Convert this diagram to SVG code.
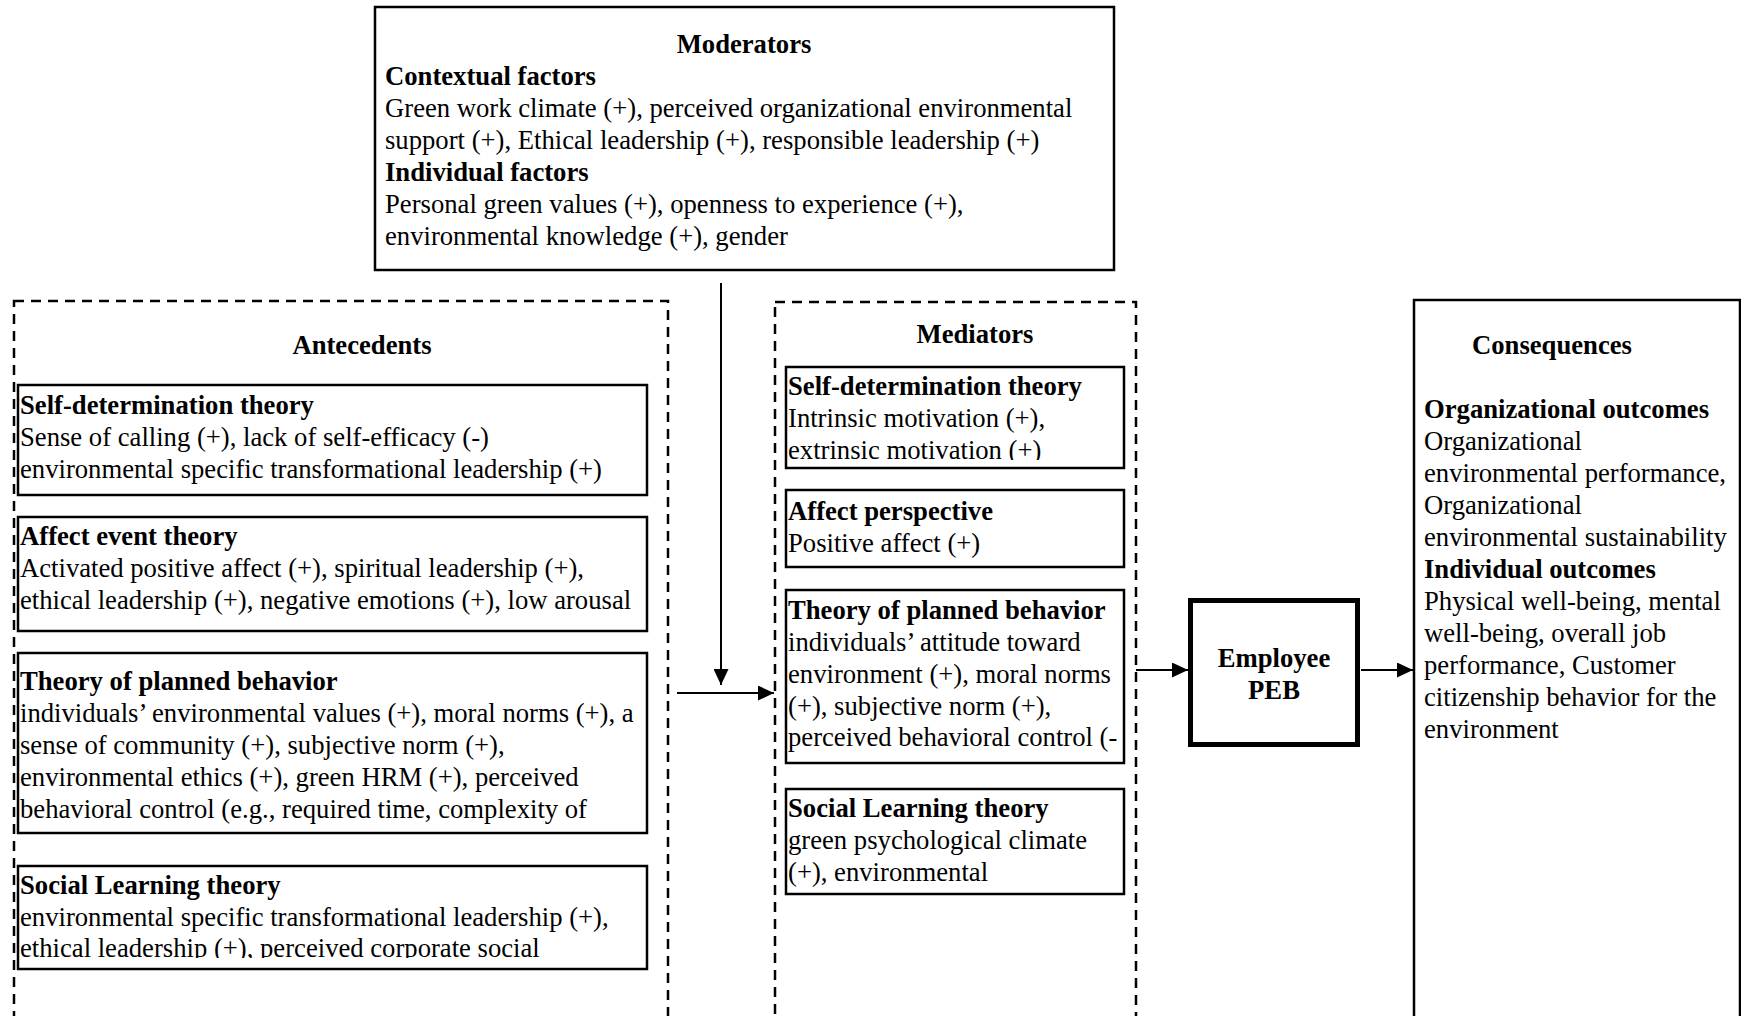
<svg xmlns="http://www.w3.org/2000/svg" width="1741" height="1016" viewBox="0 0 1741 1016">
<style>
text{font-family:"Liberation Serif","Times New Roman",serif;font-size:26.67px;fill:#000}
.b{font-weight:bold}
.c{text-anchor:middle}
.box{fill:none;stroke:#000;stroke-width:2.5}
.dash{fill:none;stroke:#000;stroke-width:2.5;stroke-dasharray:10 7}
.peb{fill:none;stroke:#000;stroke-width:5}
.conn{stroke:#000;stroke-width:2;fill:none}
</style>
<defs>
<marker id="arr" markerUnits="userSpaceOnUse" markerWidth="16" markerHeight="15" refX="16" refY="7.5" orient="auto">
<path d="M0,0 L16,7.5 L0,15 z" fill="#000"/>
</marker>
<clipPath id="clipA4"><rect x="0" y="860" width="680" height="98"/></clipPath>
<clipPath id="clipM1"><rect x="780" y="360" width="350" height="100"/></clipPath>
</defs>
<rect width="1741" height="1016" fill="#fff"/>

<g id="moderators">
<rect class="box" x="375" y="7" width="739" height="263"/>
<text class="b c" x="744" y="53">Moderators</text>
<text class="b" x="385" y="85">Contextual factors</text>
<text x="385" y="117">Green work climate (+), perceived organizational environmental</text>
<text x="385" y="149">support (+), Ethical leadership (+), responsible leadership (+)</text>
<text class="b" x="385" y="181">Individual factors</text>
<text x="385" y="213">Personal green values (+), openness to experience (+),</text>
<text x="385" y="245">environmental knowledge (+), gender</text>
</g>

<g id="antecedents">
<rect class="dash" x="14" y="301" width="654" height="760"/>
<text class="b c" x="362" y="354">Antecedents</text>
</g>
<g id="ant-sdt">
<rect class="box" x="18" y="385" width="629" height="110"/>
<text class="b" x="20" y="414">Self-determination theory</text>
<text x="20" y="446">Sense of calling (+), lack of self-efficacy (-)</text>
<text x="20" y="478">environmental specific transformational leadership (+)</text>
</g>
<g id="ant-aet">
<rect class="box" x="18" y="517" width="629" height="114"/>
<text class="b" x="20" y="545">Affect event theory</text>
<text x="20" y="577">Activated positive affect (+), spiritual leadership (+),</text>
<text x="20" y="609">ethical leadership (+), negative emotions (+), low arousal</text>
</g>
<g id="ant-tpb">
<rect class="box" x="18" y="653" width="629" height="180"/>
<text class="b" x="20" y="690">Theory of planned behavior</text>
<text x="20" y="722">individuals’ environmental values (+), moral norms (+), a</text>
<text x="20" y="754">sense of community (+), subjective norm (+),</text>
<text x="20" y="786">environmental ethics (+), green HRM (+), perceived</text>
<text x="20" y="818">behavioral control (e.g., required time, complexity of</text>
</g>
<g id="ant-slt">
<rect class="box" x="18" y="866" width="629" height="103"/>
<text class="b" x="20" y="894">Social Learning theory</text>
<text x="20" y="926">environmental specific transformational leadership (+),</text>
<text x="20" y="957" clip-path="url(#clipA4)">ethical leadership (+), perceived corporate social</text>
</g>

<g id="mediators">
<rect class="dash" x="775" y="302" width="361" height="760"/>
<text class="b c" x="975" y="343">Mediators</text>
</g>
<g id="med-sdt">
<rect class="box" x="786" y="367" width="338" height="101"/>
<text class="b" x="788" y="395">Self-determination theory</text>
<text x="788" y="427">Intrinsic motivation (+),</text>
<text x="788" y="459" clip-path="url(#clipM1)">extrinsic motivation (+)</text>
</g>
<g id="med-ap">
<rect class="box" x="786" y="490" width="338" height="77"/>
<text class="b" x="788" y="520">Affect perspective</text>
<text x="788" y="552">Positive affect (+)</text>
</g>
<g id="med-tpb">
<rect class="box" x="786" y="590" width="338" height="173"/>
<text class="b" x="788" y="619">Theory of planned behavior</text>
<text x="788" y="651">individuals’ attitude toward</text>
<text x="788" y="683">environment (+), moral norms</text>
<text x="788" y="715">(+), subjective norm (+),</text>
<text x="788" y="746">perceived behavioral control (-</text>
</g>
<g id="med-slt">
<rect class="box" x="786" y="789" width="338" height="105"/>
<text class="b" x="788" y="817">Social Learning theory</text>
<text x="788" y="849">green psychological climate</text>
<text x="788" y="881">(+), environmental</text>
</g>

<g id="peb">
<rect class="peb" x="1190.5" y="600.5" width="167" height="144"/>
<text class="b c" x="1274" y="667">Employee</text>
<text class="b c" x="1274" y="699">PEB</text>
</g>

<g id="consequences">
<rect class="box" x="1414" y="300" width="326" height="760"/>
<text class="b c" x="1552" y="354">Consequences</text>
<text class="b" x="1424" y="418">Organizational outcomes</text>
<text x="1424" y="450">Organizational</text>
<text x="1424" y="482">environmental performance,</text>
<text x="1424" y="514">Organizational</text>
<text x="1424" y="546">environmental sustainability</text>
<text class="b" x="1424" y="578">Individual outcomes</text>
<text x="1424" y="610">Physical well-being, mental</text>
<text x="1424" y="642">well-being, overall job</text>
<text x="1424" y="674">performance, Customer</text>
<text x="1424" y="706">citizenship behavior for the</text>
<text x="1424" y="738">environment</text>
</g>

<g id="connectors">
<line class="conn" x1="721" y1="283" x2="721" y2="685" marker-end="url(#arr)"/>
<line class="conn" x1="677" y1="693" x2="774" y2="693" marker-end="url(#arr)"/>
<line class="conn" x1="1136" y1="670" x2="1188" y2="670" marker-end="url(#arr)"/>
<line class="conn" x1="1361" y1="670" x2="1413" y2="670" marker-end="url(#arr)"/>
</g>
</svg>
